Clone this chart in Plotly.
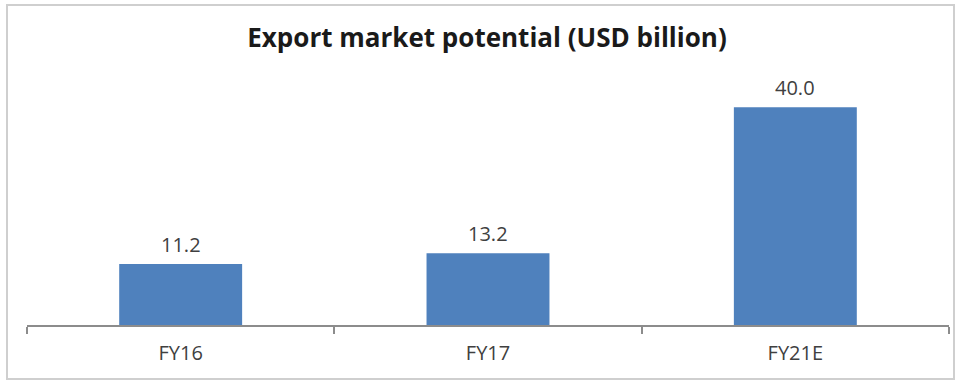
import plotly.graph_objects as go

# Export market potential, USD billion
categories = ["FY16", "FY17", "FY21E"]
values = [11.2, 13.2, 40.0]
labels = ["11.2", "13.2", "40.0"]

W, H = 957, 381
L, R, T, B = 27, 8, 80, 56
pw, ph = W - L - R, H - T - B

FONT = "Open Sans"
TEXT_GREY = "#404040"

def px_to_paper_x(px):
    return (px - L) / pw

def px_to_paper_y(py):
    return (H - B - py) / ph

fig = go.Figure(
    go.Bar(
        x=categories,
        y=values,
        marker=dict(color="#4F81BD", line=dict(width=0)),
        hoverinfo="skip",
    )
)

# value labels above each bar
for cat, val, lab in zip(categories, values, labels):
    fig.add_annotation(
        x=cat,
        y=val,
        text=lab,
        showarrow=False,
        yanchor="bottom",
        yshift=4,
        font=dict(family=FONT, size=20, color=TEXT_GREY),
    )

fig.update_layout(
    width=W,
    height=H,
    margin=dict(l=L, r=R, t=T, b=B),
    paper_bgcolor="white",
    plot_bgcolor="white",
    bargap=0.6,
    showlegend=False,
    title=dict(
        text="<b>Export market potential (USD billion)</b>",
        x=(247 + 727) / 2 / W,
        xanchor="center",
        y=1 - 38 / H,
        yanchor="middle",
        font=dict(family=FONT, size=26, color="#1a1a1a"),
    ),
    xaxis=dict(
        showline=True,
        linecolor="#8c8c8c",
        linewidth=1.5,
        ticks="outside",
        tickson="boundaries",
        ticklen=7,
        tickcolor="#8c8c8c",
        tickwidth=1.5,
        ticklabelstandoff=9,
        tickfont=dict(family=FONT, size=20, color=TEXT_GREY),
        showgrid=False,
        zeroline=False,
    ),
    yaxis=dict(visible=False, range=[0, 45], showgrid=False, zeroline=False),
    shapes=[
        dict(
            type="rect",
            xref="paper",
            yref="paper",
            x0=px_to_paper_x(7),
            x1=px_to_paper_x(954),
            y0=px_to_paper_y(379),
            y1=px_to_paper_y(5),
            line=dict(color="#cfcfcf", width=2),
            fillcolor="rgba(0,0,0,0)",
            layer="below",
        )
    ],
)

fig.write_html("out.html")
